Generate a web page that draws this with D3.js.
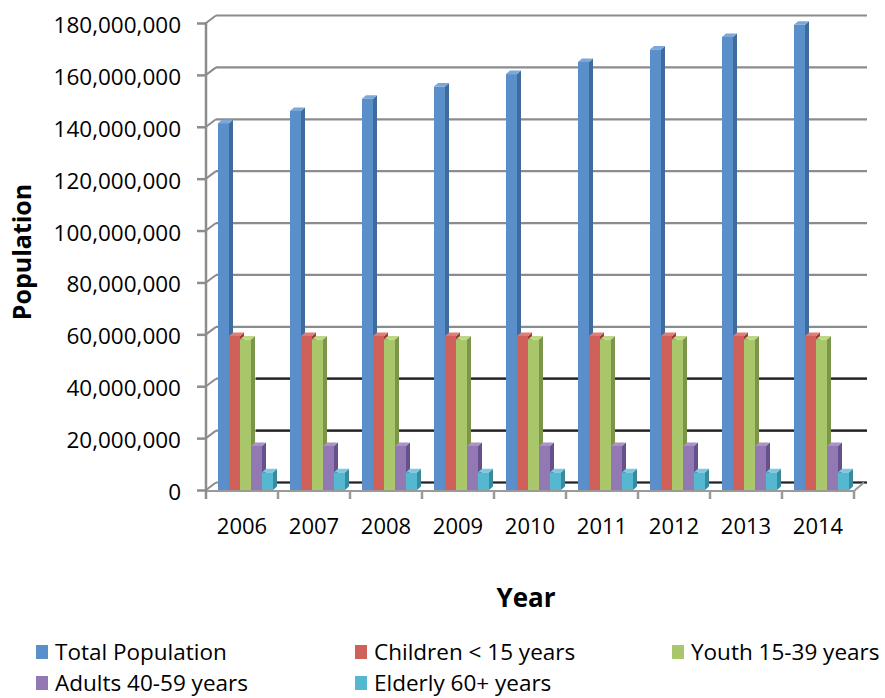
<!DOCTYPE html>
<html>
<head>
<meta charset="utf-8">
<script src="https://cdn.jsdelivr.net/npm/d3@7"></script>
<style>
    body { margin: 0; background: #fff; }
    text { font-family: "Open Sans", "Noto Sans", sans-serif; fill: #000; }
</style>
</head>
<body>
<div id="chart"></div>
<script>
// data
var years = ["2006", "2007", "2008", "2009", "2010", "2011", "2012", "2013", "2014"];
var seriesNames = ["Total Population", "Children < 15 years", "Youth 15-39 years", "Adults 40-59 years", "Elderly 60+ years"];
var totalPopulation = [141400000, 146100000, 150800000, 155500000, 160300000, 165000000, 169800000, 174600000, 179300000];
var children = [59400000, 59400000, 59400000, 59400000, 59400000, 59400000, 59400000, 59400000, 59400000];
var youth = [58000000, 58000000, 58000000, 58000000, 58000000, 58000000, 58000000, 58000000, 58000000];
var adults = [17000000, 17000000, 17000000, 17000000, 17000000, 17000000, 17000000, 17000000, 17000000];
var elderly = [6800000, 6800000, 6800000, 6800000, 6800000, 6800000, 6800000, 6800000, 6800000];
var yTicks = [0, 20000000, 40000000, 60000000, 80000000, 100000000, 120000000, 140000000, 160000000, 180000000];

function init() {
    var w = 885;
    var h = 698;

    var seriesValues = [totalPopulation, children, youth, adults, elderly];
    var front = ["#5b8fc9", "#d0615a", "#a9c66b", "#9379b3", "#56b8d0"];
    var side = ["#3f6b9d", "#9d403b", "#7b954a", "#66518a", "#3a8aa0"];
    var top = ["#7aa8db", "#dc7f79", "#bed788", "#a994c4", "#7ccbdd"];

    // 3D depth of the walls and of the bars
    var wallDx = 10, wallDy = -7.5;
    var barDx = 4, barDy = -3.5;

    var svg = d3.select("#chart")
        .append("svg")
        .attr("width", w)
        .attr("height", h);

    var xScale = d3.scaleBand()
        .domain(years)
        .range([206, 854]);

    var xInner = d3.scaleBand()
        .domain(seriesNames)
        .range([12, 67]);

    var yScale = d3.scaleLinear()
        .domain([0, 180000000])
        .range([490, 23]);

    var x0 = xScale.range()[0], x1 = xScale.range()[1];

    // back wall gridlines
    svg.append("g")
        .selectAll("line")
        .data(yTicks)
        .enter()
        .append("line")
        .attr("x1", x0 + wallDx)
        .attr("x2", x1 + wallDx + 3)
        .attr("y1", function(d) { return yScale(d) + wallDy; })
        .attr("y2", function(d) { return yScale(d) + wallDy; })
        .attr("stroke", "#8c8c8c")
        .attr("stroke-width", 2.2);

    // the lower gridlines come out dark in the reference
    svg.append("g")
        .selectAll("line")
        .data([0, 20000000, 40000000])
        .enter()
        .append("line")
        .attr("x1", x0 + wallDx + 40)
        .attr("x2", x1 + wallDx + 3)
        .attr("y1", function(d) { return yScale(d) + wallDy; })
        .attr("y2", function(d) { return yScale(d) + wallDy; })
        .attr("stroke", "#222")
        .attr("stroke-width", 2.2);

    // side wall diagonals
    svg.append("g")
        .selectAll("line")
        .data(yTicks)
        .enter()
        .append("line")
        .attr("x1", x0)
        .attr("x2", x0 + wallDx)
        .attr("y1", function(d) { return yScale(d); })
        .attr("y2", function(d) { return yScale(d) + wallDy; })
        .attr("stroke", "#8c8c8c")
        .attr("stroke-width", 2);

    // floor front edge and right diagonal
    svg.append("line")
        .attr("x1", x0).attr("x2", x1)
        .attr("y1", yScale(0) + 1).attr("y2", yScale(0) + 1)
        .attr("stroke", "#9a9a9a")
        .attr("stroke-width", 2);
    svg.append("line")
        .attr("x1", x1).attr("x2", x1 + wallDx)
        .attr("y1", yScale(0) + 1).attr("y2", yScale(0) + wallDy)
        .attr("stroke", "#9a9a9a")
        .attr("stroke-width", 2);

    // category ticks on the floor front edge
    svg.append("g")
        .selectAll("line")
        .data(years)
        .enter()
        .append("line")
        .attr("x1", function(d) { return xScale(d) + xScale.bandwidth(); })
        .attr("x2", function(d) { return xScale(d) + xScale.bandwidth(); })
        .attr("y1", yScale(0))
        .attr("y2", yScale(0) + 9)
        .attr("stroke", "#9a9a9a")
        .attr("stroke-width", 2.5);

    // bars, one cluster per year, drawn left to right so the faces overlap right
    var bars = [];
    years.forEach(function(year, i) {
        seriesNames.forEach(function(name, j) {
            bars.push({ year: year, series: j, value: seriesValues[j][i] });
        });
    });

    var bw = xInner.bandwidth();
    var barG = svg.append("g")
        .selectAll("g")
        .data(bars)
        .enter()
        .append("g");

    function bx(d) { return xScale(d.year) + xInner(seriesNames[d.series]); }

    barG.append("path")
        .attr("d", function(d) {
            var x = bx(d), y = yScale(d.value), b = yScale(0);
            return "M" + (x + bw) + "," + y + "L" + (x + bw + barDx) + "," + (y + barDy) +
                "L" + (x + bw + barDx) + "," + (b + barDy) + "L" + (x + bw) + "," + b + "Z";
        })
        .attr("fill", function(d) { return side[d.series]; });

    barG.append("path")
        .attr("d", function(d) {
            var x = bx(d), y = yScale(d.value);
            return "M" + x + "," + y + "L" + (x + barDx) + "," + (y + barDy) +
                "L" + (x + bw + barDx) + "," + (y + barDy) + "L" + (x + bw) + "," + y + "Z";
        })
        .attr("fill", function(d) { return top[d.series]; });

    barG.append("rect")
        .attr("x", bx)
        .attr("y", function(d) { return yScale(d.value); })
        .attr("width", bw)
        .attr("height", function(d) { return yScale(0) - yScale(d.value); })
        .attr("fill", function(d) { return front[d.series]; });

    // y axis
    var yAxis = d3.axisLeft(yScale)
        .tickValues(yTicks)
        .tickFormat(d3.format(","))
        .tickSize(9)
        .tickSizeOuter(0)
        .tickPadding(16);
    var yG = svg.append("g")
        .attr("transform", "translate(" + x0 + ",0)")
        .call(yAxis);
    yG.select(".domain").remove();
    yG.selectAll(".tick line").attr("stroke", "#8c8c8c").attr("stroke-width", 2.5);
    yG.selectAll(".tick text")
        .attr("dy", "0.42em")
        .style("font-size", "22.5px")
        .style("font-family", "'Open Sans', sans-serif")
        .attr("fill", "#000");
    svg.append("line")
        .attr("x1", x0).attr("x2", x0)
        .attr("y1", yScale(180000000) - 1).attr("y2", yScale(0) + 9)
        .attr("stroke", "#8c8c8c")
        .attr("stroke-width", 2.5);

    // x axis labels
    var xAxis = d3.axisBottom(xScale)
        .tickSize(0)
        .tickPadding(28);
    var xG = svg.append("g")
        .attr("transform", "translate(0," + yScale(0) + ")")
        .call(xAxis);
    xG.select(".domain").remove();
    xG.selectAll(".tick text")
        .style("font-size", "22px")
        .style("font-family", "'Open Sans', sans-serif")
        .attr("fill", "#000");

    // axis titles
    svg.append("text")
        .attr("x", 526)
        .attr("y", 607)
        .attr("text-anchor", "middle")
        .style("font-size", "26px")
        .style("font-weight", "bold")
        .text("Year");

    svg.append("text")
        .attr("transform", "translate(31,252) rotate(-90)")
        .attr("text-anchor", "middle")
        .style("font-size", "25px")
        .style("font-weight", "bold")
        .text("Population");

    // legend
    var legendX = [36, 355, 672, 36, 355];
    var legendY = [660, 660, 660, 691, 691];
    var legend = svg.append("g")
        .selectAll("g")
        .data(seriesNames)
        .enter()
        .append("g")
        .attr("transform", function(d, i) { return "translate(" + legendX[i] + "," + legendY[i] + ")"; });

    legend.append("rect")
        .attr("x", 0)
        .attr("y", -15)
        .attr("width", 12)
        .attr("height", 14)
        .attr("fill", function(d, i) { return front[i]; });

    legend.append("text")
        .attr("x", 19)
        .attr("y", 0)
        .style("font-size", "22.5px")
        .text(function(d) { return d; });
}

window.onload = init;
</script>
</body>
</html>
